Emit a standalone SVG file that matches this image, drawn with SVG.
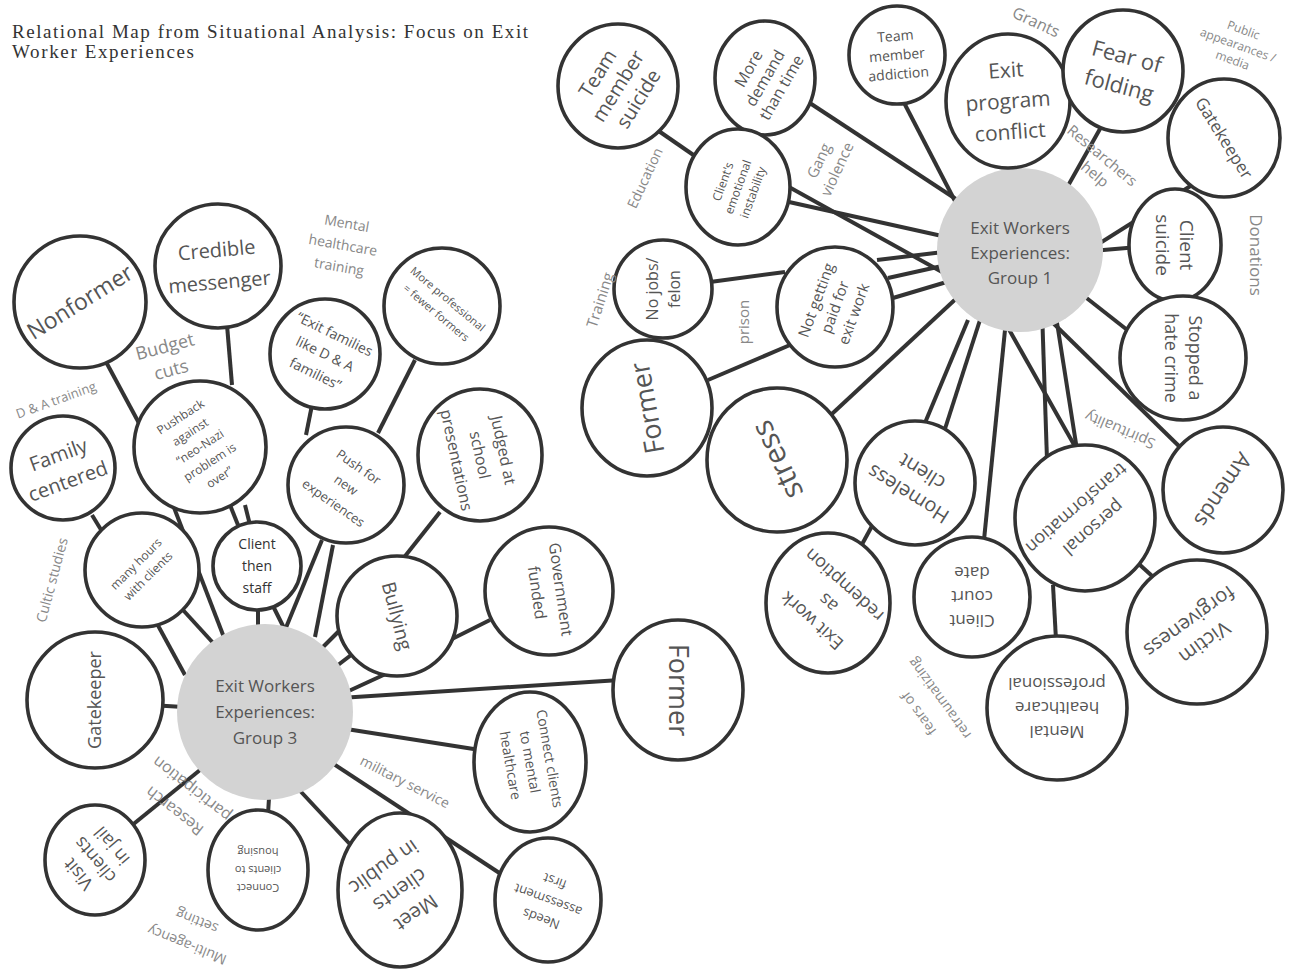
<svg xmlns="http://www.w3.org/2000/svg" width="1294" height="973" viewBox="0 0 1294 973">
<style>
.n{fill:#fff;stroke:#333;stroke-width:3.6}
.c{fill:#d3d3d3}
.t{font-family:"Open Sans","Liberation Sans",sans-serif;fill:#555;text-anchor:middle}
.l{font-family:"Open Sans","Liberation Sans",sans-serif;fill:#888;text-anchor:middle}
.k{fill:#333}
#edges line{stroke:#333;stroke-width:4}
.title{font-family:"Liberation Serif",serif;font-size:19px;fill:#333}
</style>
<rect width="1294" height="973" fill="#fff"/>
<text class="title" x="12" y="38" textLength="516" lengthAdjust="spacing">Relational Map from Situational Analysis: Focus on Exit</text>
<text class="title" x="12" y="58" textLength="182" lengthAdjust="spacing">Worker Experiences</text>

<g id="edges">
<line x1="650" y1="125" x2="705" y2="163"/>
<line x1="790" y1="90" x2="965" y2="205"/>
<line x1="900" y1="95" x2="970" y2="230"/>
<line x1="1010" y1="150" x2="1015" y2="200"/>
<line x1="1105" y1="120" x2="1060" y2="200"/>
<line x1="1200" y1="180" x2="1070" y2="262"/>
<line x1="1150" y1="246" x2="1080" y2="252"/>
<line x1="1140" y1="340" x2="1070" y2="285"/>
<line x1="1050" y1="320" x2="1185" y2="452"/>
<line x1="1047" y1="460" x2="1042" y2="310"/>
<line x1="1077" y1="450" x2="1055" y2="310"/>
<line x1="1077" y1="450" x2="998" y2="310"/>
<line x1="983" y1="550" x2="1007" y2="310"/>
<line x1="922" y1="430" x2="968" y2="320"/>
<line x1="943" y1="435" x2="980" y2="320"/>
<line x1="860" y1="548" x2="878" y2="515"/>
<line x1="820" y1="425" x2="960" y2="295"/>
<line x1="877" y1="260" x2="960" y2="250"/>
<line x1="888" y1="278" x2="960" y2="262"/>
<line x1="893" y1="298" x2="960" y2="278"/>
<line x1="780" y1="200" x2="960" y2="240"/>
<line x1="780" y1="182" x2="960" y2="282"/>
<line x1="708" y1="380" x2="790" y2="345"/>
<line x1="710" y1="282" x2="785" y2="272"/>
<line x1="1140" y1="565" x2="1162" y2="585"/>
<line x1="1053" y1="585" x2="1056" y2="640"/>

<line x1="105" y1="360" x2="140" y2="425"/>
<line x1="227" y1="325" x2="232" y2="385"/>
<line x1="312" y1="405" x2="306" y2="435"/>
<line x1="415" y1="360" x2="378" y2="433"/>
<line x1="440" y1="512" x2="402" y2="560"/>
<line x1="490" y1="620" x2="450" y2="640"/>
<line x1="92" y1="515" x2="103" y2="533"/>
<line x1="230" y1="505" x2="238" y2="525"/>
<line x1="245" y1="505" x2="250" y2="525"/>
<line x1="173" y1="505" x2="225" y2="640"/>
<line x1="183" y1="610" x2="215" y2="645"/>
<line x1="155" y1="620" x2="185" y2="675"/>
<line x1="258" y1="600" x2="258" y2="635"/>
<line x1="270" y1="600" x2="285" y2="630"/>
<line x1="322" y1="540" x2="285" y2="630"/>
<line x1="333" y1="545" x2="315" y2="637"/>
<line x1="310" y1="660" x2="345" y2="625"/>
<line x1="325" y1="675" x2="355" y2="652"/>
<line x1="340" y1="695" x2="390" y2="672"/>
<line x1="340" y1="698" x2="620" y2="680"/>
<line x1="340" y1="728" x2="480" y2="750"/>
<line x1="150" y1="705" x2="200" y2="708"/>
<line x1="120" y1="835" x2="200" y2="770"/>
<line x1="268" y1="815" x2="270" y2="780"/>
<line x1="360" y1="855" x2="290" y2="780"/>
<line x1="510" y1="880" x2="320" y2="755"/>
</g>

<!-- Group 1 -->
<g id="g1-center"><ellipse class="c" cx="1020" cy="250" rx="83" ry="82"/><text class="t" font-size="17" transform="translate(1020 250)"><tspan x="0" y="-16">Exit Workers</tspan><tspan x="0" y="9">Experiences:</tspan><tspan x="0" y="34">Group 1</tspan></text></g>
<g id="team-member-suicide"><ellipse class="n" cx="618" cy="86" rx="60" ry="62"/><text class="t" font-size="20" transform="translate(618 86) rotate(-58)"><tspan x="0" y="-17">Team</tspan><tspan x="0" y="7">member</tspan><tspan x="0" y="31">suicide</tspan></text></g>
<g id="more-demand"><ellipse class="n" cx="765" cy="78" rx="50" ry="57"/><text class="t" font-size="16" transform="translate(765 78) rotate(-60)"><tspan x="0" y="-13.4">More</tspan><tspan x="0" y="5.6">demand</tspan><tspan x="0" y="24.6">than time</tspan></text></g>
<g id="team-member-addiction"><ellipse class="n" cx="897" cy="55" rx="48" ry="49"/><text class="t" font-size="14" transform="translate(897 55) rotate(-5)"><tspan x="0" y="-14.1">Team</tspan><tspan x="0" y="4.9">member</tspan><tspan x="0" y="23.9">addiction</tspan></text></g>
<g id="exit-program-conflict"><ellipse class="n" cx="1008" cy="101" rx="62" ry="67"/><text class="t" font-size="21" transform="translate(1008 101) rotate(-4)"><tspan x="0" y="-23.6">Exit</tspan><tspan x="0" y="7.4">program</tspan><tspan x="0" y="38.4">conflict</tspan></text></g>
<g id="fear-of-folding"><ellipse class="n" cx="1123" cy="71" rx="60" ry="61"/><text class="t" font-size="22" transform="translate(1123 71) rotate(15)"><tspan x="0" y="-7.3">Fear of</tspan><tspan x="0" y="22.7">folding</tspan></text></g>
<g id="gatekeeper-1"><ellipse class="n" cx="1224" cy="138" rx="56" ry="59"/><text class="t" font-size="17" transform="translate(1224 138) rotate(58)"><tspan x="0" y="6">Gatekeeper</tspan></text></g>
<g id="client-suicide"><ellipse class="n" cx="1175" cy="245" rx="46" ry="56"/><text class="t" font-size="19" transform="translate(1175 245) rotate(90)"><tspan x="0" y="-5.4">Client</tspan><tspan x="0" y="18.6">suicide</tspan></text></g>
<g id="stopped-hate-crime"><ellipse class="n" cx="1183" cy="358" rx="63" ry="62"/><text class="t" font-size="18" transform="translate(1183 358) rotate(90)"><tspan x="0" y="-5.7">Stopped a</tspan><tspan x="0" y="18.3">hate crime</tspan></text></g>
<g id="amends"><ellipse class="n" cx="1223" cy="490" rx="60" ry="63"/><text class="t" font-size="22" transform="translate(1223 490) rotate(124)"><tspan x="0" y="7.7">Amends</tspan></text></g>
<g id="victim-forgiveness"><ellipse class="n" cx="1197" cy="632" rx="70" ry="72"/><text class="t" font-size="20" transform="translate(1197 632) rotate(144)"><tspan x="0" y="-6">Victim</tspan><tspan x="0" y="20">forgiveness</tspan></text></g>
<g id="personal-transformation"><ellipse class="n" cx="1085" cy="518" rx="70" ry="73"/><text class="t" font-size="18" transform="translate(1085 518) rotate(139)"><tspan x="0" y="-6.7">personal</tspan><tspan x="0" y="19.3">transformation</tspan></text></g>
<g id="mental-healthcare-professional"><ellipse class="n" cx="1057" cy="708" rx="70" ry="72"/><text class="t" font-size="17" transform="translate(1057 708) rotate(180)"><tspan x="0" y="-18">Mental</tspan><tspan x="0" y="6">healthcare</tspan><tspan x="0" y="30">professional</tspan></text></g>
<g id="client-court-date"><ellipse class="n" cx="972" cy="597" rx="58" ry="60"/><text class="t" font-size="17" transform="translate(972 597) rotate(180)"><tspan x="0" y="-18">Client</tspan><tspan x="0" y="6">court</tspan><tspan x="0" y="30">date</tspan></text></g>
<g id="homeless-client"><ellipse class="n" cx="915" cy="483" rx="60" ry="62"/><text class="t" font-size="20" transform="translate(915 483) rotate(212)"><tspan x="0" y="-6">Homeless</tspan><tspan x="0" y="20">client</tspan></text></g>
<g id="exit-work-redemption"><ellipse class="n" cx="828" cy="603" rx="62" ry="70"/><text class="t" font-size="18" transform="translate(828 603) rotate(222)"><tspan x="0" y="-17.7">Exit work</tspan><tspan x="0" y="6.3">as</tspan><tspan x="0" y="30.3">redemption</tspan></text></g>
<g id="stress"><ellipse class="n" cx="777" cy="460" rx="70" ry="72"/><text class="t" font-size="30" transform="translate(777 460) rotate(-115)"><tspan x="0" y="10.5">stress</tspan></text></g>
<g id="former-1"><ellipse class="n" cx="647" cy="408" rx="65" ry="68"/><text class="t" font-size="27" transform="translate(647 408) rotate(-100)"><tspan x="0" y="9.5">Former</tspan></text></g>
<g id="not-getting-paid"><ellipse class="n" cx="835" cy="307" rx="58" ry="60"/><text class="t" font-size="15" transform="translate(835 307) rotate(-70)"><tspan x="0" y="-14.75">Not getting</tspan><tspan x="0" y="5.25">paid for</tspan><tspan x="0" y="25.25">exit work</tspan></text></g>
<g id="no-jobs-felon"><ellipse class="n" cx="663" cy="289" rx="49" ry="49"/><text class="t" font-size="16" transform="translate(663 289) rotate(-90)"><tspan x="0" y="-5.4">No jobs/</tspan><tspan x="0" y="16.6">felon</tspan></text></g>
<g id="emotional-instability"><ellipse class="n" cx="738" cy="187" rx="52" ry="58"/><text class="t" font-size="12" transform="translate(738 187) rotate(-70)"><tspan x="0" y="-11.8">Client's</tspan><tspan x="0" y="4.2">emotional</tspan><tspan x="0" y="20.2">instability</tspan></text></g>

<g id="labels-1">
<text class="l" font-size="16" transform="translate(1036 22) rotate(25)"><tspan x="0" y="5.6">Grants</tspan></text>
<text class="l" font-size="12" transform="translate(1238 45) rotate(20)"><tspan x="0" y="-11.8">Public</tspan><tspan x="0" y="4.2">appearances /</tspan><tspan x="0" y="20.2">media</tspan></text>
<text class="l" font-size="15" style="text-anchor:start" transform="translate(1066 132) rotate(40)"><tspan x="0" y="0">Researchers</tspan><tspan x="34" y="19">help</tspan></text>
<text class="l" font-size="17" transform="translate(1256 255) rotate(90)"><tspan x="0" y="6">Donations</tspan></text>
<text class="l" font-size="15" transform="translate(828 165) rotate(-65)"><tspan x="0" y="-4.75">Gang</tspan><tspan x="0" y="15.25">violence</tspan></text>
<text class="l" font-size="14" transform="translate(645 178) rotate(-65)"><tspan x="0" y="4.9">Education</tspan></text>
<text class="l" font-size="15" transform="translate(600 300) rotate(-72)"><tspan x="0" y="5.25">Training</tspan></text>
<text class="l" font-size="15" transform="translate(744 322) rotate(-90)"><tspan x="0" y="5.25">prison</tspan></text>
<text class="l" font-size="15" transform="translate(1120 430) rotate(203)"><tspan x="0" y="5.25">Spirituality</tspan></text>
<text class="l" font-size="14" transform="translate(929 706) rotate(234)"><tspan x="0" y="-8.1">fears of</tspan><tspan x="0" y="17.9">retraumatizing</tspan></text>
</g>

<!-- Group 3 -->
<g id="g3-center"><ellipse class="c" cx="265" cy="712" rx="88" ry="88"/><text class="t" font-size="17" transform="translate(265 712)"><tspan x="0" y="-20">Exit Workers</tspan><tspan x="0" y="6">Experiences:</tspan><tspan x="0" y="32">Group 3</tspan></text></g>
<g id="nonformer"><ellipse class="n" cx="80" cy="302" rx="66" ry="66"/><text class="t" font-size="23" transform="translate(80 302) rotate(-32)"><tspan x="0" y="8">Nonformer</tspan></text></g>
<g id="credible-messenger"><ellipse class="n" cx="218" cy="266" rx="63" ry="62"/><text class="t" font-size="20" transform="translate(218 266) rotate(-5)"><tspan x="0" y="-9">Credible</tspan><tspan x="0" y="23">messenger</tspan></text></g>
<g id="exit-families"><ellipse class="n" cx="325" cy="354" rx="55" ry="55"/><text class="t" font-size="14" transform="translate(325 354) rotate(26)"><tspan x="0" y="-17.1">“Exit families</tspan><tspan x="0" y="4.9">like D &amp; A</tspan><tspan x="0" y="26.9">families”</tspan></text></g>
<g id="more-professional"><ellipse class="n" cx="442" cy="306" rx="58" ry="58"/><text class="t" font-size="11" transform="translate(442 306) rotate(40)"><tspan x="0" y="-5.15">More professional</tspan><tspan x="0" y="12.85">= fewer formers</tspan></text></g>
<g id="judged-at-school"><ellipse class="n" cx="480" cy="455" rx="62" ry="66"/><text class="t" font-size="16" transform="translate(480 455) rotate(78)"><tspan x="0" y="-18.4">Judged at</tspan><tspan x="0" y="5.6">school</tspan><tspan x="0" y="29.6">presentations</tspan></text></g>
<g id="pushback"><ellipse class="n" cx="200" cy="447" rx="66" ry="66"/><text class="t" font-size="12" transform="translate(200 447) rotate(-33)"><tspan x="0" y="-31.8">Pushback</tspan><tspan x="0" y="-13.8">against</tspan><tspan x="0" y="4.2">“neo-Nazi</tspan><tspan x="0" y="22.2">problem is</tspan><tspan x="0" y="40.2">over”</tspan></text></g>
<g id="family-centered"><ellipse class="n" cx="63" cy="468" rx="52" ry="52"/><text class="t" font-size="20" transform="translate(63 468) rotate(-20)"><tspan x="0" y="-7">Family</tspan><tspan x="0" y="21">centered</tspan></text></g>
<g id="push-for-new"><ellipse class="n" cx="346" cy="485" rx="58" ry="58"/><text class="t" font-size="13" transform="translate(346 485) rotate(35)"><tspan x="0" y="-17.45">Push for</tspan><tspan x="0" y="4.55">new</tspan><tspan x="0" y="26.55">experiences</tspan></text></g>
<g id="many-hours"><ellipse class="n" cx="142" cy="570" rx="57" ry="57"/><text class="t" font-size="12" transform="translate(142 570) rotate(-45)"><tspan x="0" y="-4.3">many hours</tspan><tspan x="0" y="12.7">with clients</tspan></text></g>
<g id="client-then-staff"><ellipse class="n" cx="257" cy="566" rx="44" ry="44"/><text class="t k" font-size="14" transform="translate(257 566)"><tspan x="0" y="-17.1">Client</tspan><tspan x="0" y="4.9">then</tspan><tspan x="0" y="26.9">staff</tspan></text></g>
<g id="bullying"><ellipse class="n" cx="397" cy="616" rx="60" ry="60"/><text class="t" font-size="19" transform="translate(397 616) rotate(75)"><tspan x="0" y="6.65">Bullying</tspan></text></g>
<g id="government-funded"><ellipse class="n" cx="549" cy="591" rx="64" ry="64"/><text class="t" font-size="16" transform="translate(549 591) rotate(82)"><tspan x="0" y="-6.4">Government</tspan><tspan x="0" y="17.6">funded</tspan></text></g>
<g id="former-3"><ellipse class="n" cx="678" cy="690" rx="65" ry="70"/><text class="t" font-size="27" transform="translate(678 690) rotate(90)"><tspan x="0" y="9.5">Former</tspan></text></g>
<g id="gatekeeper-3"><ellipse class="n" cx="95" cy="700" rx="68" ry="68"/><text class="t" font-size="18" transform="translate(95 700) rotate(-90)"><tspan x="0" y="6.3">Gatekeeper</tspan></text></g>
<g id="connect-mental-healthcare"><ellipse class="n" cx="530" cy="762" rx="56" ry="70"/><text class="t" font-size="14" transform="translate(530 762) rotate(80)"><tspan x="0" y="-15.1">Connect clients</tspan><tspan x="0" y="4.9">to mental</tspan><tspan x="0" y="24.9">healthcare</tspan></text></g>
<g id="needs-assessment"><ellipse class="n" cx="548" cy="900" rx="53" ry="62"/><text class="t" font-size="13" transform="translate(548 900) rotate(200)"><tspan x="0" y="-15.45">Needs</tspan><tspan x="0" y="4.55">assessment</tspan><tspan x="0" y="24.55">first</tspan></text></g>
<g id="meet-clients"><ellipse class="n" cx="400" cy="890" rx="62" ry="77"/><text class="t" font-size="20" transform="translate(400 890) rotate(145)"><tspan x="0" y="-21">Meet</tspan><tspan x="0" y="7">clients</tspan><tspan x="0" y="35">in public</tspan></text></g>
<g id="connect-housing"><ellipse class="n" cx="258" cy="870" rx="50" ry="60"/><text class="t" font-size="11" transform="translate(258 870) rotate(180)"><tspan x="0" y="-14.15">Connect</tspan><tspan x="0" y="3.85">clients to</tspan><tspan x="0" y="21.85">housing</tspan></text></g>
<g id="visit-clients"><ellipse class="n" cx="95" cy="860" rx="50" ry="55"/><text class="t" font-size="18" transform="translate(95 860) rotate(230)"><tspan x="0" y="-15.7">Visit</tspan><tspan x="0" y="6.3">clients</tspan><tspan x="0" y="28.3">in jail</tspan></text></g>

<g id="labels-3">
<text class="l" font-size="14" transform="translate(343 245) rotate(10)"><tspan x="0" y="-17.1">Mental</tspan><tspan x="0" y="4.9">healthcare</tspan><tspan x="0" y="26.9">training</tspan></text>
<text class="l" font-size="18" transform="translate(168 358) rotate(-15)"><tspan x="0" y="-5.7">Budget</tspan><tspan x="0" y="18.3">cuts</tspan></text>
<text class="l" font-size="13" transform="translate(56 400) rotate(-20)"><tspan x="0" y="4.55">D &amp; A training</tspan></text>
<text class="l" font-size="14" transform="translate(52 580) rotate(-75)"><tspan x="0" y="4.9">Cultic studies</tspan></text>
<text class="l" font-size="16" transform="translate(183 800) rotate(218)"><tspan x="0" y="-8.4">Research</tspan><tspan x="0" y="19.6">participation</tspan></text>
<text class="l" font-size="14" transform="translate(405 782) rotate(27)"><tspan x="0" y="4.9">military service</tspan></text>
<text class="l" font-size="14" transform="translate(192 933) rotate(202)"><tspan x="0" y="-8.1">Multi-agency</tspan><tspan x="0" y="17.9">setting</tspan></text>
</g>
</svg>
